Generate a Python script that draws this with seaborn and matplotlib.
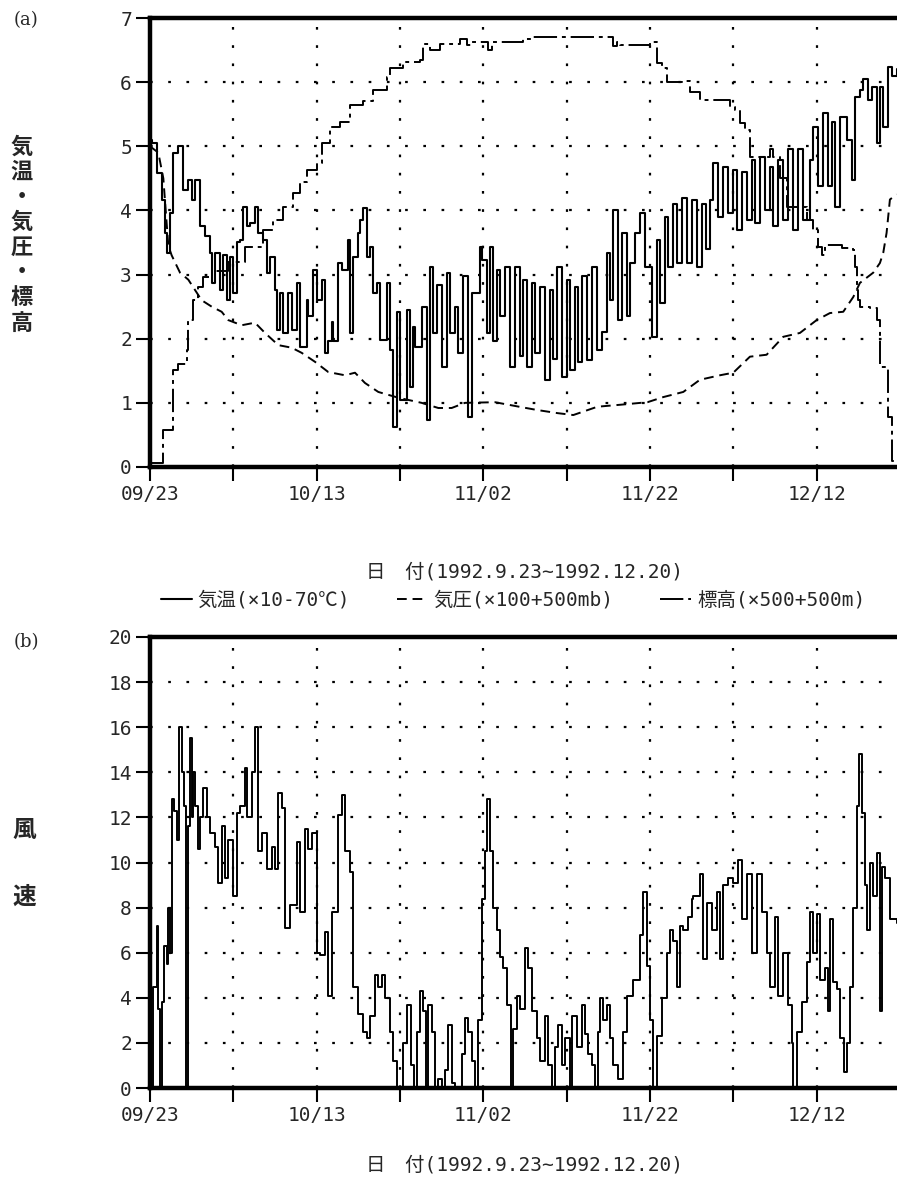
import matplotlib
matplotlib.use("Agg")
import matplotlib.pyplot as plt
import pandas as pd
import seaborn as sns
from matplotlib.ticker import FixedLocator, FixedFormatter

# ---------------- data (days since 1992-09-23 00:00) ----------------
temp_day = [0.0, 0.3, 0.8, 1.4, 1.8, 2.0, 2.4, 2.8, 3.4, 4.0, 4.6, 5.0, 5.4, 6.0, 6.6, 7.2, 7.4, 7.8,
            8.4, 8.8, 9.2, 9.6, 10.0, 10.4, 10.8, 11.2, 11.6, 12.0, 12.6, 13.0, 13.6, 14.0, 14.4, 15.0,
            15.2, 15.6, 16.0, 16.6, 17.0, 17.6, 18.0, 18.8, 19.0, 19.6, 20.0, 20.6, 21.0, 21.4, 21.8,
            22.0, 22.6, 23.0, 23.8, 24.0, 24.4, 25.0, 25.2, 25.6, 26.0, 26.4, 26.8, 27.2, 27.6, 28.4,
            28.8, 29.2, 29.6, 30.0, 30.8, 31.2, 31.6, 31.8, 32.6, 33.2, 33.6, 34.0, 34.4, 35.0, 35.6,
            36.0, 36.6, 37.0, 37.6, 38.2, 38.6, 39.6, 39.8, 40.4, 40.8, 41.2, 41.6, 42.0, 42.6, 43.2,
            43.8, 44.4, 44.8, 45.2, 45.8, 46.2, 46.8, 47.4, 48.0, 48.4, 48.9, 49.4, 50.0, 50.4, 51.0,
            51.4, 51.8, 52.4, 53.0, 53.6, 54.2, 54.8, 55.2, 55.6, 56.2, 56.6, 57.2, 57.6, 58.2, 58.8,
            59.4, 60.3, 60.8, 61.2, 61.8, 62.2, 62.8, 63.2, 63.8, 64.4, 65.0, 65.6, 66.2, 66.7, 67.2,
            67.6, 68.2, 68.8, 69.4, 70.0, 70.4, 71.0, 71.6, 72.2, 72.6, 73.2, 73.8, 74.4, 74.8, 75.4,
            76.0, 76.6, 77.2, 77.8, 78.4, 79.2, 79.6, 80.2, 80.8, 81.4, 81.8, 82.2, 82.8, 83.6, 84.2,
            84.6, 85.2, 85.6, 86.2, 86.6, 87.2, 87.6, 88.0, 88.6, 89.0, 89.6]
temp_val = [5.10, 5.05, 4.58, 4.17, 3.65, 3.34, 3.96, 4.90, 5.00, 4.32, 4.48, 4.17, 4.48, 3.75, 3.60, 3.34, 2.87, 3.34,
            2.76, 3.30, 2.60, 3.28, 2.71, 3.50, 3.54, 4.06, 3.75, 3.80, 4.06, 3.65, 3.54, 3.03, 3.28, 2.76,
            2.14, 2.71, 2.09, 2.71, 2.14, 2.87, 1.87, 2.60, 2.35, 3.07, 2.60, 2.92, 1.78, 1.97, 2.26,
            1.97, 3.18, 3.07, 3.54, 2.09, 3.28, 3.65, 3.85, 4.04, 3.28, 3.43, 2.71, 2.87, 1.98, 2.87,
            1.82, 0.62, 2.42, 1.05, 2.45, 1.25, 2.18, 1.87, 2.50, 0.73, 3.12, 2.09, 2.83, 1.56, 3.03,
            2.09, 2.50, 1.78, 2.97, 0.78, 2.71, 3.43, 3.22, 2.09, 3.43, 1.97, 3.07, 2.35, 3.12, 1.56,
            3.12, 1.73, 2.92, 1.56, 2.87, 1.78, 2.81, 1.36, 2.76, 1.68, 3.12, 1.40, 2.92, 1.51, 2.81,
            1.63, 2.97, 1.67, 3.12, 1.83, 2.10, 3.34, 2.60, 4.00, 2.29, 3.65, 2.35, 3.18, 3.65, 3.96,
            3.12, 2.03, 3.54, 2.55, 3.90, 3.12, 4.10, 3.18, 4.20, 3.18, 4.17, 3.12, 4.10, 3.40, 4.17,
            4.74, 3.90, 4.68, 3.96, 4.63, 3.70, 4.60, 3.85, 4.79, 3.80, 4.84, 4.00, 4.68, 3.75, 4.79,
            3.85, 4.95, 3.70, 4.95, 3.85, 4.79, 5.30, 4.38, 5.52, 4.38, 5.38, 4.06, 5.46, 5.10, 4.48,
            5.77, 5.88, 6.05, 5.72, 5.93, 5.05, 5.93, 5.30, 6.24, 6.10, 6.20]

pres_day = [0.0, 1.0, 1.6, 2.0, 2.2, 2.6, 3.6, 4.6, 5.4, 6.2, 7.4, 8.6, 9.4, 11.0, 12.6, 13.8, 15.4,
            17.0, 18.2, 19.8, 21.4, 23.4, 24.6, 25.8, 27.4, 29.8, 32.6, 34.6, 36.2, 37.8, 41.4, 44.7,
            46.4, 48.9, 50.8, 53.7, 56.4, 59.7, 61.6, 64.0, 66.0, 68.4, 70.0, 72.0, 74.0, 76.0, 78.0,
            80.0, 81.6, 83.2, 84.4, 85.2, 86.8, 87.6, 88.0, 88.4, 88.8, 89.6]
pres_val = [5.00, 4.90, 4.50, 3.80, 3.45, 3.30, 3.03, 2.92, 2.76, 2.60, 2.50, 2.42, 2.29, 2.21, 2.25, 2.09, 1.90,
            1.86, 1.78, 1.64, 1.48, 1.43, 1.47, 1.31, 1.17, 1.08, 1.00, 0.92, 0.92, 1.00, 1.01, 0.93,
            0.89, 0.84, 0.81, 0.94, 0.97, 1.01, 1.09, 1.17, 1.36, 1.43, 1.47, 1.72, 1.75, 2.03, 2.09,
            2.29, 2.40, 2.42, 2.65, 2.87, 3.03, 3.18, 3.34, 3.65, 4.17, 4.25]

alt_day = [0.0, 1.6, 2.8, 3.4, 4.4, 4.6, 5.2, 5.8, 6.4, 7.5, 9.4, 11.4, 13.6, 14.8, 16.0, 17.2, 18.0,
           18.8, 20.0, 20.6, 21.6, 22.8, 24.0, 25.6, 26.8, 28.4, 28.8, 30.4, 32.4, 32.8, 33.6, 34.8,
           37.2, 38.0, 38.6, 40.6, 41.0, 44.8, 46.0, 55.6, 56.0, 56.4, 60.0, 60.8, 61.4, 62.0, 63.9,
           64.8, 66.0, 69.6, 70.2, 70.8, 71.4, 72.0, 74.4, 74.8, 75.6, 76.4, 78.0, 78.8, 79.6, 80.2,
           80.6, 81.0, 82.8, 83.0, 84.4, 84.6, 84.8, 85.0, 85.2, 86.4, 87.2, 87.6, 88.4, 88.6, 89.0, 89.7]
alt_val = [0.06, 0.58, 1.51, 1.60, 1.83, 2.29, 2.60, 2.80, 2.96, 3.05, 3.20, 3.43, 3.70, 3.85, 4.05, 4.27, 4.45,
           4.63, 4.74, 5.05, 5.30, 5.38, 5.65, 5.70, 5.88, 6.08, 6.22, 6.32, 6.35, 6.60, 6.50, 6.60,
           6.68, 6.58, 6.63, 6.50, 6.63, 6.68, 6.70, 6.56, 6.62, 6.58, 6.63, 6.30, 6.22, 6.00, 6.02,
           5.85, 5.72, 5.62, 5.57, 5.36, 5.26, 4.84, 4.95, 4.84, 4.50, 4.06, 4.06, 3.85, 3.70, 3.43,
           3.30, 3.46, 3.46, 3.41, 3.38, 3.12, 2.76, 2.60, 2.50, 2.48, 2.29, 1.56, 1.54, 0.78, 0.10, 0.10]

wind_day = [0.0, 0.15, 0.4, 0.8, 1.0, 1.2, 1.4, 1.7, 2.0, 2.2, 2.4, 2.6, 2.9, 3.2, 3.5, 3.8, 4.1, 4.3,
            4.6, 4.8, 5.0, 5.2, 5.4, 5.8, 6.0, 6.4, 6.8, 7.2, 7.8, 8.2, 8.6, 9.0, 9.4, 10.0, 10.4, 10.8,
            11.4, 11.6, 12.2, 12.6, 13.0, 13.4, 14.0, 14.6, 15.0, 15.4, 15.8, 16.2, 16.8, 17.6, 18.0,
            18.6, 19.0, 19.4, 20.0, 20.4, 21.0, 21.4, 21.8, 22.6, 23.0, 23.4, 24.0, 24.4, 25.0, 25.6,
            26.0, 26.4, 27.0, 27.4, 27.8, 28.2, 28.8, 29.2, 29.6, 30.0, 30.4, 30.9, 31.3, 31.7, 32.0,
            32.4, 32.8, 33.1, 33.4, 33.8, 34.2, 34.6, 35.0, 35.4, 35.8, 36.2, 36.6, 37.0, 37.4, 37.8,
            38.2, 38.6, 39.0, 39.4, 39.8, 40.2, 40.5, 40.8, 41.2, 41.6, 42.0, 42.4, 42.8, 43.3, 43.6,
            44.0, 44.4, 45.0, 45.4, 45.8, 46.4, 46.8, 47.4, 47.8, 48.2, 48.6, 49.0, 49.4, 49.8, 50.4,
            50.6, 51.2, 51.8, 52.2, 52.6, 53.0, 53.4, 53.8, 54.0, 54.4, 54.8, 55.2, 55.6, 56.2, 56.8,
            57.2, 58.0, 58.8, 59.2, 59.6, 60.0, 60.4, 60.8, 61.4, 62.0, 62.4, 62.8, 63.2, 63.6, 64.0,
            64.6, 65.0, 65.2, 66.0, 66.4, 66.8, 67.4, 68.0, 68.4, 68.8, 69.4, 70.0, 70.6, 71.0, 71.6,
            72.2, 72.8, 73.4, 74.0, 74.4, 75.0, 75.4, 76.0, 76.6, 77.0, 77.2, 77.6, 78.2, 78.8, 79.2,
            79.6, 80.0, 80.4, 81.0, 81.4, 81.6, 82.0, 82.4, 82.8, 83.3, 83.6, 84.0, 84.4, 84.8, 85.1,
            85.4, 85.8, 86.0, 86.4, 86.8, 87.2, 87.6, 87.8, 88.2, 88.8, 89.6]
wind_val = [7.3, 0.0, 4.5, 7.2, 3.5, 0.0, 3.8, 6.3, 5.5, 8.0, 6.0, 12.8, 12.3, 11.0, 16.0, 14.0, 12.5, 0.0,
            11.6, 15.5, 12.0, 14.0, 12.5, 10.6, 12.0, 13.3, 12.0, 11.3, 10.7, 9.1, 11.6, 9.3, 11.0, 8.5, 12.2, 12.5,
            14.2, 12.0, 14.0, 16.0, 10.5, 11.3, 9.7, 10.7, 9.7, 13.1, 12.4, 7.1, 8.1, 10.9, 7.8,
            11.5, 10.6, 11.3, 6.0, 5.9, 6.9, 4.1, 7.8, 12.1, 13.0, 10.5, 9.6, 4.5, 3.3, 2.5,
            2.2, 3.2, 5.0, 4.5, 5.0, 4.0, 2.5, 1.2, 0.0, 0.0, 2.0, 3.7, 1.0, 0.0, 2.5,
            4.3, 3.4, 0.0, 3.7, 2.5, 0.0, 0.4, 0.0, 0.8, 2.8, 0.2, 0.0, 0.0, 1.5, 3.1,
            2.5, 1.2, 0.0, 3.0, 8.4, 10.5, 12.8, 10.5, 8.0, 7.0, 5.8, 5.3, 3.7, 0.0, 2.6,
            4.1, 3.5, 6.2, 5.3, 3.4, 2.2, 1.2, 3.2, 1.0, 0.0, 1.8, 2.8, 1.0, 2.2, 0.0,
            3.2, 1.8, 3.7, 2.4, 1.5, 1.0, 0.0, 2.5, 4.0, 3.0, 3.7, 2.2, 1.0, 0.4, 2.5,
            4.1, 4.8, 6.8, 8.7, 5.4, 3.0, 0.0, 2.3, 4.0, 6.0, 7.0, 6.5, 4.5, 7.2, 7.0,
            7.6, 8.4, 8.5, 9.5, 5.7, 8.2, 7.0, 8.7, 5.7, 9.0, 9.3, 9.1, 10.1, 7.5, 9.5,
            6.0, 9.5, 7.8, 6.0, 4.5, 7.6, 4.1, 6.0, 3.7, 2.0, 0.0, 2.5, 3.8, 5.6, 7.8,
            6.0, 7.7, 4.8, 5.3, 3.4, 7.5, 4.7, 4.4, 2.2, 0.7, 2.0, 4.5, 8.0, 12.5, 14.8,
            12.2, 9.0, 7.0, 10.0, 8.5, 10.4, 3.4, 9.8, 9.3, 7.5, 7.3]

tick_days = [0, 10, 20, 30, 40, 50, 60, 70, 80]
tick_labels = ["09/23", "", "10/13", "", "11/02", "", "11/22", "", "12/12"]
legend_labels = ["気温(×10-70℃)", "気圧(×100+500mb)", "標高(×500+500m)"]
xlabel_text = "日　付(1992.9.23~1992.12.20)"

# ---------------- style ----------------
sns.set_style("ticks")
plt.rcParams['font.family'] = ['DejaVu Sans Mono', 'Noto Sans CJK JP']
plt.rcParams['axes.unicode_minus'] = False

W, H = 897, 1190
fig = plt.figure(figsize=(W / 100, H / 100), dpi=100)
L = 150 / W
ax1 = fig.add_axes([L, 1 - 467 / H, 1 - L, (467 - 18) / H])
ax2 = fig.add_axes([L, 1 - 1088 / H, 1 - L, (1088 - 637) / H])

temp_df = pd.DataFrame({"day": temp_day, "value": temp_val})
pres_df = pd.DataFrame({"day": pres_day, "value": pres_val})
alt_df = pd.DataFrame({"day": alt_day, "value": alt_val})
wind_df = pd.DataFrame({"day": wind_day, "value": wind_val})

common = dict(x="day", y="value", color="black", estimator=None, sort=False, errorbar=None)
sns.lineplot(data=temp_df, ax=ax1, linewidth=1.5, drawstyle="steps-post", **common)
sns.lineplot(data=pres_df, ax=ax1, linewidth=1.4, linestyle=(0, (5, 3)), **common)
sns.lineplot(data=alt_df, ax=ax1, linewidth=1.4, linestyle=(0, (12, 2.5, 2, 2.5)),
             drawstyle="steps-post", **common)
sns.lineplot(data=wind_df, ax=ax2, linewidth=1.4, drawstyle="steps-post", **common)

grid_style = dict(color="black", linestyle=(0, (1.2, 7)), linewidth=1.6)
for ax, ymax, ystep in [(ax1, 7, 1), (ax2, 20, 2)]:
    ax.set_xlim(0, 89.65)
    ax.set_ylim(0, ymax)
    ax.xaxis.set_major_locator(FixedLocator(tick_days))
    ax.xaxis.set_major_formatter(FixedFormatter(tick_labels))
    ax.set_yticks(list(range(0, ymax + 1, ystep)))
    ax.grid(True, **grid_style)
    ax.set_axisbelow(True)
    ax.set_xlabel("")
    ax.set_ylabel("")
    for side in ["left", "bottom", "top"]:
        ax.spines[side].set_visible(True)
        ax.spines[side].set_linewidth(3.2)
        ax.spines[side].set_color("black")
    ax.spines["right"].set_visible(False)
    ax.tick_params(axis="both", which="major", direction="out", length=10, width=1.5,
                   color="black", labelsize=14, pad=3, bottom=True, left=True,
                   top=False, right=False)
    ax.set_facecolor("white")

# ---------------- text ----------------
fig.text(14 / W, 1 - 20 / H, "(a)", family="DejaVu Serif", fontsize=13, ha="left", va="center")
fig.text(14 / W, 1 - 642 / H, "(b)", family="DejaVu Serif", fontsize=13, ha="left", va="center")
fig.text(22 / W, 1 - 235 / H, "\n".join("気温・気圧・標高"), family="Noto Sans CJK JP",
         fontsize=16, fontweight="bold", ha="center", va="center", linespacing=1.12)
fig.text(24 / W, 1 - 830 / H, "風", family="Noto Sans CJK JP", fontsize=17,
         fontweight="bold", ha="center", va="center")
fig.text(24 / W, 1 - 897 / H, "速", family="Noto Sans CJK JP", fontsize=17,
         fontweight="bold", ha="center", va="center")
fig.text(0.585, 1 - 572 / H, xlabel_text, fontsize=14, ha="center", va="center")
fig.text(0.585, 1 - 1165 / H, xlabel_text, fontsize=14, ha="center", va="center")

handles = ax1.get_lines()[:3]
fig.legend(handles, legend_labels, loc="center", bbox_to_anchor=(0.572, 1 - 600 / H),
           ncol=3, frameon=False, handlelength=1.6, handletextpad=0.3, columnspacing=2.4,
           fontsize=14, borderaxespad=0)

fig.savefig("out.png", dpi=100, facecolor="white")
